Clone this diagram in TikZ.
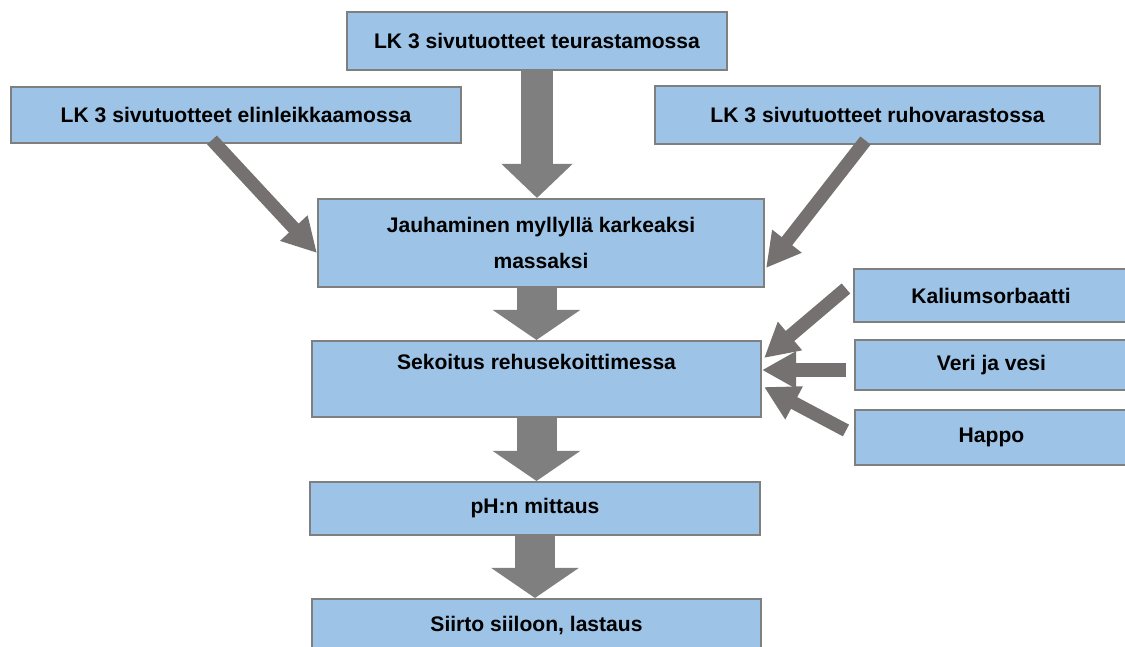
\documentclass[tikz,border=0pt]{standalone}
\usepackage{fontspec}
\setmainfont{Liberation Sans}
\usepackage{xcolor}
\usetikzlibrary{positioning, arrows.meta, calc}

\definecolor{boxblue}{HTML}{9DC3E6}
\definecolor{boxline}{HTML}{7F7F7F}
\definecolor{bigarr}{HTML}{7F7F7F}
\definecolor{thinarr}{HTML}{767171}

\begin{document}
\begin{tikzpicture}[
  x=0.025cm, y=0.025cm,
  every node/.style={font=\fontsize{15}{25}\selectfont\bfseries},
  box/.style   ={rectangle, draw=boxline, fill=boxblue, line width=0.05cm,
                 align=center, inner sep=0pt},
  feed/.style  ={draw=bigarr, line width=0.8cm,
                 -{Triangle[length=0.85cm, width=1.725cm]}},
  flow/.style  ={draw=bigarr, line width=1cm,
                 -{Triangle[length=0.75cm, width=2.15cm]}},
  side/.style  ={draw=thinarr, line width=0.33cm,
                 -{Triangle[length=0.85cm, width=0.875cm]}}
]
\useasboundingbox (0,0) rectangle (1125,646);

%--- Source nodes ------------------------------------------------------------
\node[box, minimum width=9.5cm,   minimum height=1.425cm] (teur) at (537,605)
  {LK 3 sivutuotteet teurastamossa};
\node[box, minimum width=11.25cm, minimum height=1.4cm]   (elin) at (236,531)
  {LK 3 sivutuotteet elinleikkaamossa};
\node[box, minimum width=11.125cm,minimum height=1.425cm] (ruho) at (877.5,531)
  {LK 3 sivutuotteet ruhovarastossa};

%--- Main process ------------------------------------------------------------
\node[box, minimum width=11.15cm, minimum height=2.2cm]   (jauh) at (541,403)
  {Jauhaminen myllyllä karkeaksi\\massaksi};
\node[box, minimum width=11.225cm,minimum height=1.9cm]   (sek)  at (536.5,267)
  {Sekoitus rehusekoittimessa\\\mbox{}};
\node[box, minimum width=11.25cm, minimum height=1.325cm] (ph)   at (535,137.5)
  {pH:n mittaus};
\node[box, minimum width=11.225cm,minimum height=1.325cm] (siirto) at (536.5,20.5)
  {Siirto siiloon, lastaus};

%--- Additives ---------------------------------------------------------------
\node[box, minimum width=6.85cm,  minimum height=1.325cm] (kalium) at (991,350.5)
  {Kaliumsorbaatti};
\node[box, minimum width=6.825cm, minimum height=1.25cm]  (veri)   at (991.5,281)
  {Veri ja vesi};
\node[box, minimum width=6.825cm, minimum height=1.375cm] (happo)  at (991.5,208.5)
  {Happo};

%--- Block arrows ------------------------------------------------------------
\draw[feed] (teur.south) -- (teur.south |- jauh.north);
\draw[flow] (sek.north |- jauh.south) -- (sek.north);
\draw[flow] (sek.south) -- (sek.south |- ph.north);
\draw[flow] (ph.south) -- (ph.south |- siirto.north);

%--- Side inputs -------------------------------------------------------------
\draw[side] ($(elin.south)+(-24,4)$)  -- ($(jauh.west)+(0,-10)$);
\draw[side] ($(ruho.south)+(-12,4)$)  -- ($(jauh.east)+(1,-25)$);
\draw[side] ($(kalium.west)+(-7,7)$)  -- ($(sek.east)+(2,21)$);
\draw[side] ($(veri.west)+(-8,-5)$)   -- ($(sek.east)+(0,9)$);
\draw[side] ($(happo.west)+(-8,7)$)   -- ($(sek.east)+(2,-8)$);
\end{tikzpicture}
\end{document}
